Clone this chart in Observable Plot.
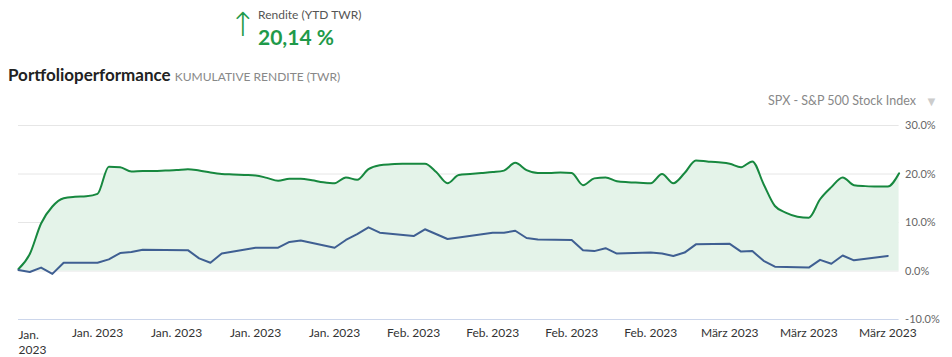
<!DOCTYPE html>
<html>
<head>
<meta charset="utf-8">
<script src="https://cdn.jsdelivr.net/npm/d3@7"></script>
<script src="https://cdn.jsdelivr.net/npm/@observablehq/plot@0.6"></script>
<style>
  body { margin:0; width:952px; height:357px; position:relative; overflow:hidden; background:#fff; font-family: Lato, "Open Sans", sans-serif; }
  .abs { position:absolute; white-space:nowrap; }
</style>
</head>
<body>
<div class="abs" style="left:229px; top:6px; font-size:33px; line-height:38px; color:#1f9a4a; font-family:'DejaVu Sans'; font-weight:200;">↑</div>
<div class="abs" style="left:258px; top:7px; font-size:12px; line-height:16px; color:#555;">Rendite (YTD TWR)</div>
<div class="abs" style="left:258px; top:24px; font-size:21px; line-height:25px; color:#1f9a4a; font-weight:bold;">20,14 %</div>
<div class="abs" style="left:8px; top:65px; font-size:17px; line-height:20px; color:#222; font-weight:bold;">Portfolioperformance <span style="font-size:12px; font-weight:normal; color:#888;">KUMULATIVE RENDITE (TWR)</span></div>
<div class="abs" style="right:36px; top:93px; font-size:12.5px; line-height:16px; color:#888;">SPX - S&amp;P 500 Stock Index</div>
<div class="abs" style="left:925px; top:93px; font-size:13px; line-height:16px; color:#ccc;">▼</div>
<div id="chart" class="abs" style="left:0; top:110px;"></div>
<script>
const greenDates = [
  "2023-01-01","2023-01-02","2023-01-03","2023-01-04","2023-01-05","2023-01-06","2023-01-07","2023-01-08","2023-01-09","2023-01-10",
  "2023-01-11","2023-01-12","2023-01-13","2023-01-14","2023-01-15","2023-01-16","2023-01-17","2023-01-18","2023-01-19","2023-01-20",
  "2023-01-21","2023-01-22","2023-01-23","2023-01-24","2023-01-25","2023-01-26","2023-01-27","2023-01-28","2023-01-29","2023-01-30",
  "2023-01-31","2023-02-01","2023-02-02","2023-02-03","2023-02-04","2023-02-05","2023-02-06","2023-02-07","2023-02-08","2023-02-09",
  "2023-02-10","2023-02-11","2023-02-12","2023-02-13","2023-02-14","2023-02-15","2023-02-16","2023-02-17","2023-02-18","2023-02-19",
  "2023-02-20","2023-02-21","2023-02-22","2023-02-23","2023-02-24","2023-02-25","2023-02-26","2023-02-27","2023-02-28","2023-03-01",
  "2023-03-02","2023-03-03","2023-03-04","2023-03-05","2023-03-06","2023-03-07","2023-03-08","2023-03-09","2023-03-10","2023-03-11",
  "2023-03-12","2023-03-13","2023-03-14","2023-03-15","2023-03-16","2023-03-17","2023-03-18","2023-03-19","2023-03-20"
];
const greenValues = [
  0.4, 3.5, 9.8, 13.3, 15.0, 15.3, 15.4, 15.9, 21.5, 21.4,
  20.5, 20.6, 20.6, 20.7, 20.8, 21.0, 20.7, 20.3, 20.0, 19.9,
  19.8, 19.7, 19.2, 18.6, 19.0, 19.0, 18.7, 18.3, 18.1, 19.3,
  18.8, 21.0, 21.8, 22.0, 22.1, 22.1, 22.1, 20.4, 18.1, 19.8,
  20.0, 20.2, 20.4, 20.7, 22.3, 20.8, 20.2, 20.2, 20.3, 20.2,
  17.7, 19.1, 19.3, 18.5, 18.3, 18.2, 18.1, 20.0, 18.1, 20.2,
  22.8, 22.6, 22.4, 22.1, 21.4, 22.6, 17.9, 13.4, 12.0, 11.2,
  11.0, 14.8, 17.3, 19.3, 17.7, 17.5, 17.4, 17.4, 20.14
];
const blueDates = [
  "2023-01-01","2023-01-02","2023-01-03","2023-01-04","2023-01-05","2023-01-08","2023-01-09","2023-01-10","2023-01-11","2023-01-12",
  "2023-01-16","2023-01-17","2023-01-18","2023-01-19","2023-01-22","2023-01-24","2023-01-25","2023-01-26","2023-01-29","2023-01-30",
  "2023-01-31","2023-02-01","2023-02-02","2023-02-05","2023-02-06","2023-02-08","2023-02-09","2023-02-12","2023-02-13","2023-02-14",
  "2023-02-15","2023-02-16","2023-02-19","2023-02-20","2023-02-21","2023-02-22","2023-02-23","2023-02-26","2023-02-27","2023-02-28",
  "2023-03-01","2023-03-02","2023-03-05","2023-03-06","2023-03-07","2023-03-08","2023-03-09","2023-03-12","2023-03-13","2023-03-14",
  "2023-03-15","2023-03-16","2023-03-19"
];
const blueValues = [
  0.2, -0.2, 0.7, -0.6, 1.7, 1.7, 2.4, 3.7, 3.9, 4.4,
  4.3, 2.6, 1.7, 3.6, 4.8, 4.8, 6.0, 6.3, 4.8, 6.4,
  7.6, 9.0, 7.9, 7.2, 8.6, 6.6, 6.9, 7.9, 7.9, 8.3,
  6.8, 6.5, 6.4, 4.3, 4.1, 4.7, 3.6, 3.8, 3.6, 3.1,
  3.8, 5.5, 5.6, 4.0, 4.1, 2.1, 0.9, 0.7, 2.3, 1.5,
  3.2, 2.2, 3.1
];
const xTickDates = ["2023-01-01","2023-01-08","2023-01-15","2023-01-22","2023-01-29","2023-02-05","2023-02-12","2023-02-19","2023-02-26","2023-03-05","2023-03-12","2023-03-19"];
const xTickLabels = ["Jan.\n2023","Jan. 2023","Jan. 2023","Jan. 2023","Jan. 2023","Feb. 2023","Feb. 2023","Feb. 2023","Feb. 2023","März 2023","März 2023","März 2023"];
const yTicks = [30, 20, 10, 0, -10];
const yTickLabels = ["30.0%","20.0%","10.0%","0.0%","-10.0%"];
const xDomain = ["2023-01-01","2023-03-20"];

const parse = s => new Date(s + "T00:00:00Z");
const green = greenDates.map((d, i) => ({date: parse(d), v: greenValues[i]}));
const blue = blueDates.map((d, i) => ({date: parse(d), v: blueValues[i]}));
const ticks = xTickDates.map(parse);
const labelOf = new Map(ticks.map((t, i) => [+t, xTickLabels[i]]));
const yLabelOf = new Map(yTicks.map((t, i) => [t, yTickLabels[i]]));

const chart = Plot.plot({
  width: 952,
  height: 247,
  marginTop: 15,
  marginBottom: 38,
  marginLeft: 18,
  marginRight: 53.4,
  style: {fontFamily: "Lato, 'Open Sans', sans-serif", background: "transparent", overflow: "visible"},
  x: {type: "utc", domain: xDomain.map(parse), label: null},
  y: {domain: [-10, 30], label: null},
  marks: [
    Plot.ruleY(yTicks.filter(t => t !== -10), {stroke: "#e6e6e6", strokeWidth: 1}),
    Plot.ruleY([-10], {stroke: "#ccd6eb", strokeWidth: 1}),
    Plot.areaY(green, {x: "date", y: "v", fill: "#e4f3e9", curve: "monotone-x"}),
    Plot.lineY(green, {x: "date", y: "v", stroke: "#17883f", strokeWidth: 2, curve: "monotone-x"}),
    Plot.lineY(blue, {x: "date", y: "v", stroke: "#3f5f92", strokeWidth: 2}),
    Plot.axisY(yTicks, {anchor: "right", tickSize: 0, tickPadding: 6, textAnchor: "start", label: null,
      tickFormat: t => yLabelOf.get(t), fontSize: 11, fill: "#666"}),
    Plot.axisX(ticks.slice(0, 1), {anchor: "bottom", tickSize: 0, tickPadding: 9, textAnchor: "start", label: null,
      tickFormat: t => labelOf.get(+t), fontSize: 12, fill: "#333", lineHeight: 1.25}),
    Plot.axisX(ticks.slice(1), {anchor: "bottom", tickSize: 0, tickPadding: 9, label: null,
      tickFormat: t => labelOf.get(+t), fontSize: 12, fill: "#333"})
  ]
});
document.getElementById("chart").appendChild(chart);
</script>
</body>
</html>
